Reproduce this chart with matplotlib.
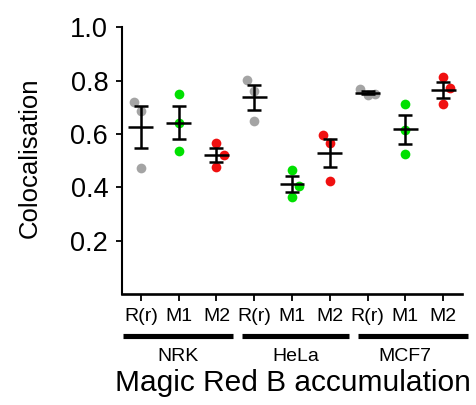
import numpy as np
import matplotlib
matplotlib.use('Agg')
import matplotlib.pyplot as plt
import matplotlib.transforms as mtransforms

plt.rcParams['font.family'] = ['Liberation Sans', 'DejaVu Sans']

# colocalisation per replicate, 3 cell lines x 3 markers
conditions = ['R(r)', 'M1', 'M2', 'R(r)', 'M1', 'M2', 'R(r)', 'M1', 'M2']
cell_lines = ['NRK', 'HeLa', 'MCF7']
values = [
    [0.720, 0.684, 0.471],   # NRK R(r)
    [0.749, 0.642, 0.537],   # NRK M1
    [0.565, 0.521, 0.477],   # NRK M2
    [0.802, 0.759, 0.649],   # HeLa R(r)
    [0.465, 0.405, 0.365],   # HeLa M1
    [0.595, 0.565, 0.425],   # HeLa M2
    [0.768, 0.745, 0.751],   # MCF7 R(r)
    [0.711, 0.615, 0.524],   # MCF7 M1
    [0.812, 0.771, 0.711],   # MCF7 M2
]
point_colors = ['#a4a4a4', '#00e000', '#f01010'] * 3


def swarm_offsets(vals, side, gap=0.065, step=0.19):
    # place points in rising order, push sideways when they would overlap
    order = np.argsort(vals)
    placed = []
    offs = np.zeros(len(vals))
    for i in order:
        v = vals[i]
        for dx in (0.0, side[0] * step, -side[0] * step):
            clash = any(abs(v - pv) < gap and abs(dx - px) < 1e-9 for pv, px in placed)
            if not clash:
                break
        if dx != 0.0:
            side[0] = -side[0]
        offs[i] = dx
        placed.append((v, dx))
    return offs


fig = plt.figure(figsize=(4.77, 4.05), dpi=100)
ax = fig.add_axes([0.2558, 0.274, 0.7128, 0.659])

side = [-1]
xs = np.arange(1, len(values) + 1)
for x, vals, c in zip(xs, values, point_colors):
    vals = np.array(vals)
    offs = swarm_offsets(vals, side)
    ax.plot(x + offs, vals, 'o', color=c, markersize=7, markeredgewidth=0,
            zorder=2, clip_on=False)
    m = vals.mean()
    sem = vals.std(ddof=1) / np.sqrt(len(vals))
    ax.plot([x - 0.33, x + 0.33], [m, m], color='black', lw=1.8, zorder=3,
            solid_capstyle='butt')
    ax.errorbar(x, m, yerr=sem, fmt='none', ecolor='black', elinewidth=1.8,
                capsize=4.8, capthick=1.8, zorder=3)

ax.set_xlim(0.5, 9.5)
ax.set_ylim(0, 1.0)
ax.set_yticks([0.2, 0.4, 0.6, 0.8, 1.0])
ax.set_yticklabels(['0.2', '0.4', '0.6', '0.8', '1.0'])
ax.set_xticks(xs)
ax.set_xticklabels(conditions)
ax.spines['top'].set_visible(False)
ax.spines['right'].set_visible(False)
ax.spines['left'].set_linewidth(1.5)
ax.spines['bottom'].set_linewidth(1.9)
ax.tick_params(axis='y', labelsize=19.5, length=4, width=1.3, pad=6)
ax.tick_params(axis='x', labelsize=14, length=5, width=1.3, pad=5)

fig.text(30 / 477, 0.611, 'Colocalisation', fontsize=18.5, rotation=90,
         ha='center', va='center')

# group bars under the tick labels
trans = mtransforms.blended_transform_factory(ax.transData, fig.transFigure)
bar_spans = [(0.53, 3.44), (3.67, 6.51), (6.74, 9.67)]
label_x = [1.97, 5.09, 8.00]
for (x0, x1), lx, name in zip(bar_spans, label_x, cell_lines):
    ax.plot([x0, x1], [0.171, 0.171], color='black', lw=3.7, transform=trans,
            clip_on=False, solid_capstyle='butt')
    fig.text(lx, 0.1086, name, fontsize=14, ha='center',
             va='baseline', transform=trans)

fig.text(0.614, 0.0346, 'Magic Red B accumulation', fontsize=21.5,
         ha='center', va='baseline')

fig.savefig('out.png', dpi=100)
